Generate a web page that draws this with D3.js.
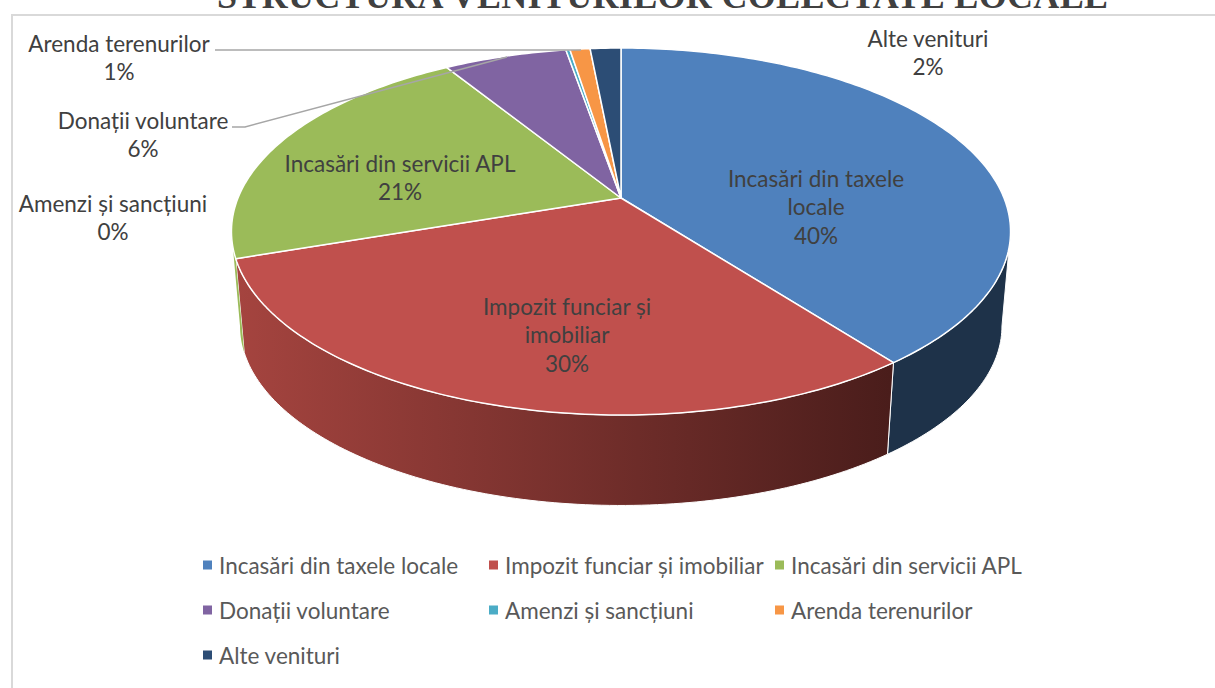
<!DOCTYPE html>
<html><head><meta charset="utf-8">
<script src="https://cdn.jsdelivr.net/npm/d3@7/dist/d3.min.js"></script>
<style>html,body{margin:0;padding:0;background:#fff;overflow:hidden}svg{display:block}</style>
</head><body><svg id="c" width="1215" height="688"></svg>
<script>
const categories = ["Incasări din taxele locale","Impozit funciar și imobiliar","Incasări din servicii APL","Donații voluntare","Amenzi și sancțiuni","Arenda terenurilor","Alte venituri"];
const values = [39.6,30.2,21.4,6.1,0.2,1.0,1.52];
const colors = ["#4f81bd","#c0504d","#9bbb59","#8064a2","#4bacc6","#f79646","#2c4d75"];
const titleText = "STRUCTURA VENITURILOR COLECTATE LOCALE";
const labelLines = [["Incasări din taxele","locale"],["Impozit funciar și","imobiliar"],["Incasări din servicii APL"],["Donații voluntare"],["Amenzi și sancțiuni"],["Arenda terenurilor"],["Alte venituri"]];
const labelAnchors = [[816,178],[567,306],[400,163],[143,120],[113,203],[119,43],[928,38]];
const leaders = {3:[[232,127],[245,127],[507,57]],5:[[215,50],[581,50]]};

const svg = d3.select("#c");
const textColor="#404040", font="Lato, 'Open Sans', sans-serif";

// frame
svg.append("path").attr("d","M12,688V15H1215").attr("fill","none").attr("stroke","#d9d9d9").attr("stroke-width",2);
// title (cropped by the top of the picture, as in the reference)
svg.append("text").text(titleText).attr("x",217).attr("y",8).attr("textLength",891)
  .attr("font-family","'Liberation Serif',serif").attr("font-weight","bold").attr("font-size",36).attr("fill","#404040");

// perspective projection of the pie disc
const cx=621, apexY=198, topY=48, botY=415, R=383;
const K=(botY+topY-2*apexY)/(botY-topY);
const A=topY*(1+K)-apexY;
const proj=(t)=>{const u=Math.sin(t),v=Math.cos(t),w=1+K*v;return [cx+R*u/w,(apexY+A*v)/w];};
const ellCy=proj(Math.acos(-K))[1];
const sx=0.978, sy=0.978, bottomCy=326;
const projBottom=(t)=>{const p=proj(t);return [cx+sx*(p[0]-cx),bottomCy+sy*(p[1]-ellCy)];};

const pie=d3.pie().sort(null)(values);
const line=d3.line();
const samples=(a,b)=>{const n=Math.max(2,Math.ceil(Math.abs(b-a)/(Math.PI/180))+1);return d3.range(n).map(i=>a+(b-a)*i/(n-1));};

const defs=svg.append("defs");
const grad=defs.append("linearGradient").attr("id","side").attr("gradientUnits","userSpaceOnUse").attr("x1",235).attr("x2",890).attr("y1",0).attr("y2",0);
grad.append("stop").attr("offset",0).attr("stop-color","#a5443f");
grad.append("stop").attr("offset",1).attr("stop-color","#4a1d1b");

// side wall (front half only)
const vis0=Math.acos(-K), vis1=2*Math.PI-vis0;
svg.append("g").selectAll("path").data(pie.filter(d=>d.endAngle>vis0&&d.startAngle<vis1)).join("path")
  .attr("d",d=>{const a=Math.max(d.startAngle,vis0),b=Math.min(d.endAngle,vis1),s=samples(a,b);
    return line(s.map(proj).concat(s.slice().reverse().map(projBottom)))+"Z";})
  .attr("fill",d=>d.index===0?"#1e3249":d.index===1?"url(#side)":colors[d.index])
  .attr("stroke","#fff").attr("stroke-width",d=>d.index===2?0:1);

// top face
svg.append("g").selectAll("path").data(pie).join("path")
  .attr("d",d=>line([[cx,apexY]].concat(samples(d.startAngle,d.endAngle).map(proj)))+"Z")
  .attr("fill",(d,i)=>colors[i]).attr("stroke","#fff").attr("stroke-width",1.5).attr("stroke-linejoin","round");

// leader lines
svg.append("g").selectAll("path").data(Object.values(leaders)).join("path")
  .attr("d",d=>line(d)).attr("fill","none").attr("stroke","#a6a6a6").attr("stroke-width",1.5);

// data labels
const total=d3.sum(values), lh=28.7;
const lab=svg.append("g").attr("font-family",font).attr("font-size",22.5).attr("fill",textColor).attr("text-anchor","middle");
categories.forEach((c,i)=>{
  const rows=labelLines[i].concat([Math.round(values[i]/total*100)+"%"]);
  rows.forEach((r,j)=>lab.append("text").text(r).attr("x",labelAnchors[i][0]).attr("y",labelAnchors[i][1]+j*lh).attr("dominant-baseline","central"));
});

// legend
const col=d3.scalePoint().domain([0,1,2]).range([203,775]);
const row=d3.scalePoint().domain([0,1,2]).range([565,655]);
const leg=svg.append("g").selectAll("g").data(categories).join("g")
  .attr("transform",(d,i)=>`translate(${col(i%3)},${row(Math.floor(i/3))})`);
leg.append("rect").attr("x",0).attr("y",-4.5).attr("width",9).attr("height",9).attr("fill",(d,i)=>colors[i]);
leg.append("text").text(d=>d).attr("x",16).attr("dominant-baseline","central")
  .attr("font-family",font).attr("font-size",22.5).attr("fill","#595959");
</script></body></html>
